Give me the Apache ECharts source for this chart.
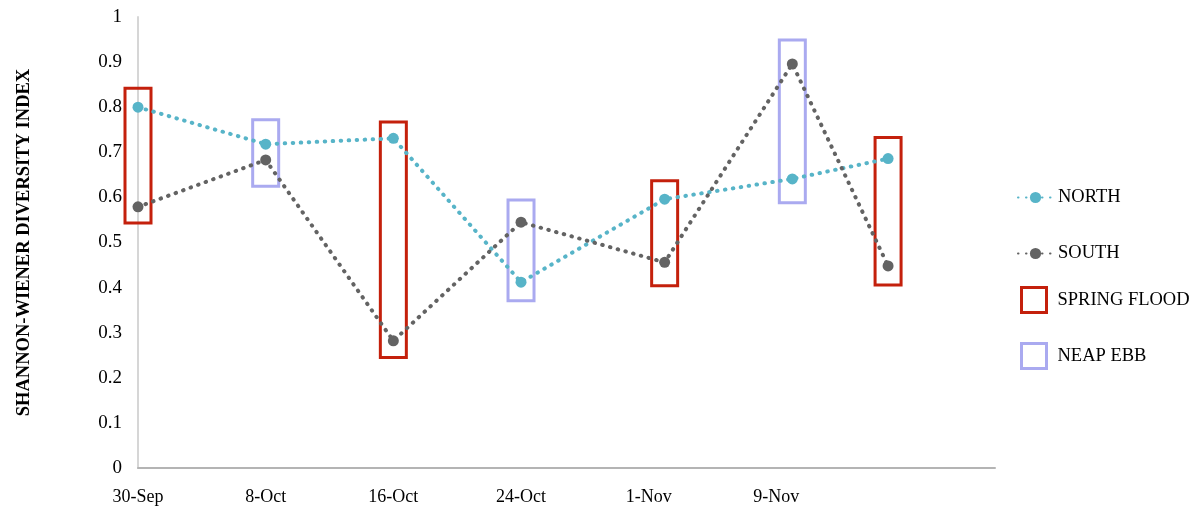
<!DOCTYPE html>
<html>
<head>
<meta charset="utf-8">
<script src="https://cdn.jsdelivr.net/npm/echarts@6/dist/echarts.min.js"></script>
<style>
  html, body { margin: 0; padding: 0; background: #fff; }
  #chart { width: 1204px; height: 514px; }
</style>
</head>
<body>
<div id="chart"></div>
<script>
// Sampling days, counted from 30-Sep
const sampleDays = [0, 8, 16, 24, 33, 41, 47];
const northIndex = [0.800, 0.718, 0.731, 0.412, 0.596, 0.641, 0.686];
const southIndex = [0.579, 0.683, 0.282, 0.545, 0.456, 0.896, 0.448];

// Tide-condition brackets: [day, lower, upper]
const springFlood = [[0, 0.543, 0.842], [16, 0.245, 0.767], [33, 0.404, 0.637], [47, 0.406, 0.733]];
const neapEbb = [[8, 0.625, 0.772], [24, 0.371, 0.594], [41, 0.588, 0.949]];

// Date tick labels every 8 days
const tickLabels = ['30-Sep', '8-Oct', '16-Oct', '24-Oct', '1-Nov', '9-Nov'];
const tickStep = 8;

const FONT = '"Liberation Serif", "DejaVu Serif", serif';
const NORTH_COLOR = '#57b4c8';
const SOUTH_COLOR = '#636363';
const FLOOD_COLOR = '#c4200c';
const EBB_COLOR = '#aaaaf0';

function bracketSeries(name, data, color) {
  return {
    name: name,
    type: 'custom',
    z: 1,
    itemStyle: { color: '#fff', borderColor: color, borderWidth: 3 },
    data: data,
    encode: { x: 0, y: [1, 2] },
    renderItem: function (params, api) {
      const top = api.coord([api.value(0), api.value(2)]);
      const bottom = api.coord([api.value(0), api.value(1)]);
      const w = 26;
      return {
        type: 'rect',
        shape: { x: top[0] - w / 2, y: top[1], width: w, height: bottom[1] - top[1] },
        style: { fill: null, stroke: color, lineWidth: 3 }
      };
    }
  };
}

function lineSeries(name, values, color) {
  return {
    name: name,
    type: 'line',
    z: 3,
    data: sampleDays.map((d, i) => [d, values[i]]),
    symbol: 'circle',
    symbolSize: 11,
    itemStyle: { color: color },
    lineStyle: { color: color, width: 4, type: [0.5, 7.5], cap: 'round' }
  };
}

const chart = echarts.init(document.getElementById('chart'));

const legendText = { fontFamily: FONT, fontSize: 18.5, color: '#000' };
const boxLegendText = Object.assign({}, legendText, { padding: [0, 0, 0, 6] });

chart.setOption({
  animation: false,
  backgroundColor: '#fff',
  grid: { left: 138, right: 209, top: 17, bottom: 46 },
  xAxis: {
    type: 'value',
    min: 0,
    max: 53.7,
    interval: tickStep,
    axisLine: { lineStyle: { color: '#b4b4b4', width: 2 } },
    axisTick: { show: false },
    splitLine: { show: false },
    axisLabel: {
      margin: 20,
      fontFamily: FONT,
      fontSize: 18,
      color: '#000',
      showMaxLabel: false,
      formatter: function (v) {
        const idx = Math.round(v / tickStep);
        if (Math.abs(idx * tickStep - v) > 1e-6) return '';
        return tickLabels[idx] || '';
      }
    }
  },
  yAxis: {
    type: 'value',
    min: 0,
    max: 1,
    interval: 0.1,
    name: 'SHANNON-WIENER DIVERSITY INDEX',
    nameLocation: 'middle',
    nameGap: 104,
    nameTextStyle: { fontFamily: FONT, fontSize: 18.5, fontWeight: 'bold', color: '#000' },
    axisLine: { show: true, lineStyle: { color: '#d6d6d6', width: 2 } },
    axisTick: { show: false },
    splitLine: { show: false },
    axisLabel: {
      margin: 16,
      fontFamily: FONT,
      fontSize: 19,
      color: '#000',
      formatter: function (v) { return String(Math.round(v * 10) / 10); }
    }
  },
  legend: [
    { data: ['NORTH'], left: 1012, top: 183, itemWidth: 35, itemHeight: 14, textStyle: legendText },
    { data: ['SOUTH'], left: 1012, top: 239, itemWidth: 35, itemHeight: 14, textStyle: legendText },
    {
      data: [{ name: 'SPRING FLOOD', icon: 'rect', itemStyle: { color: '#fff', borderColor: FLOOD_COLOR, borderWidth: 3 } }],
      left: 1015, top: 281, itemWidth: 25, itemHeight: 25, textStyle: boxLegendText
    },
    {
      data: [{ name: 'NEAP EBB', icon: 'rect', itemStyle: { color: '#fff', borderColor: EBB_COLOR, borderWidth: 3 } }],
      left: 1015, top: 337, itemWidth: 25, itemHeight: 25, textStyle: boxLegendText
    }
  ],
  series: [
    bracketSeries('SPRING FLOOD', springFlood, FLOOD_COLOR),
    bracketSeries('NEAP EBB', neapEbb, EBB_COLOR),
    lineSeries('NORTH', northIndex, NORTH_COLOR),
    lineSeries('SOUTH', southIndex, SOUTH_COLOR)
  ]
});
</script>
</body>
</html>
